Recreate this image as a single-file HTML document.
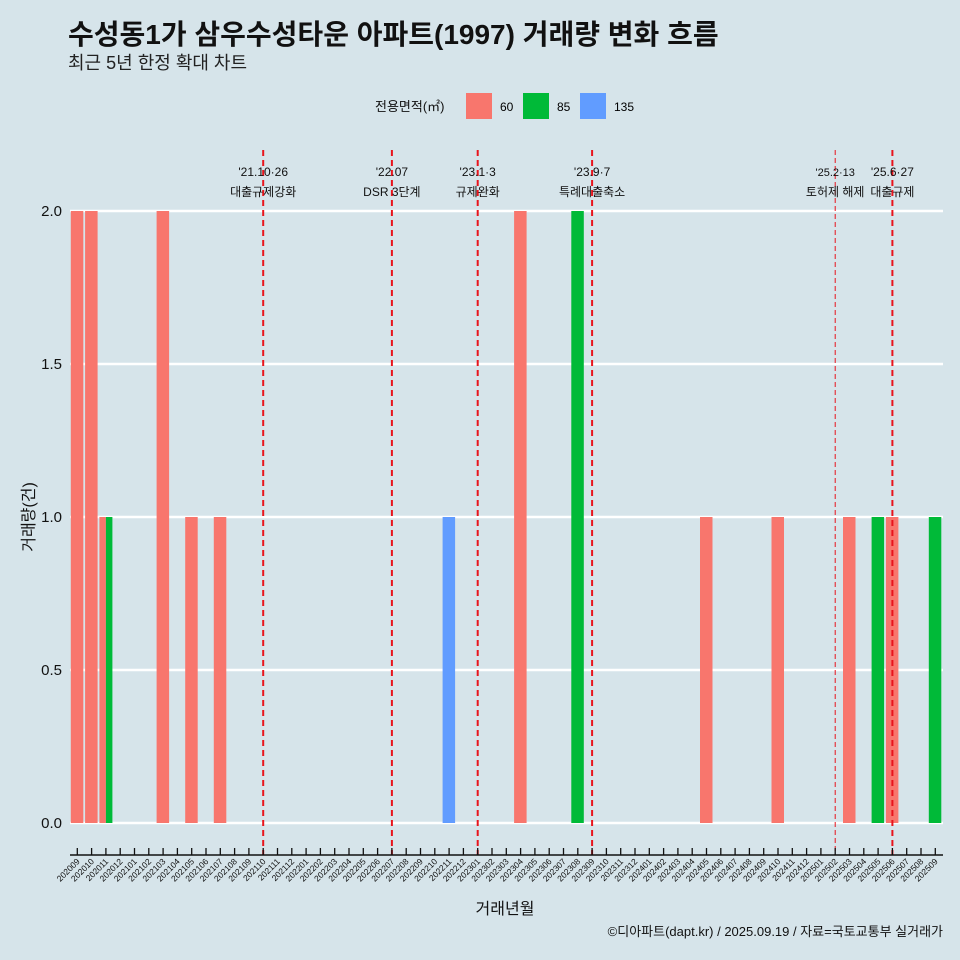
<!DOCTYPE html>
<html><head><meta charset="utf-8"><style>
html,body{margin:0;width:960px;height:960px;overflow:hidden;background:#d6e4ea;font-family:"Liberation Sans","Noto Sans CJK KR",sans-serif}
svg{display:block}
svg text{font-family:"Liberation Sans","Noto Sans CJK KR",sans-serif}
</style></head><body>
<svg width="960" height="960" viewBox="0 0 960 960">
<rect width="960" height="960" fill="#d6e4ea"/>
<text x="68" y="44" font-size="28" font-weight="bold" fill="#111">수성동1가 삼우수성타운 아파트(1997) 거래량 변화 흐름</text>
<text x="68" y="69" font-size="18" fill="#222">최근 5년 한정 확대 차트</text>
<g>
<text x="375" y="111" font-size="13" fill="#111">전용면적(㎡)</text>
<rect x="466" y="93" width="26" height="26" fill="#f8766d"/>
<text x="500" y="111" font-size="12">60</text>
<rect x="523" y="93" width="26" height="26" fill="#00ba38"/>
<text x="557" y="111" font-size="12">85</text>
<rect x="580" y="93" width="26" height="26" fill="#619cff"/>
<text x="614" y="111" font-size="12">135</text>
</g>
<g id="grid"></g><g id="bars"></g><g id="vlines"></g><g id="axes"></g>
<text x="505" y="914" font-size="16" text-anchor="middle" fill="#111">거래년월</text>
<text transform="translate(34,517) rotate(-90)" font-size="16" text-anchor="middle" fill="#111">거래량(건)</text>
<text x="943" y="936" font-size="13" text-anchor="end" fill="#111">©디아파트(dapt.kr) / 2025.09.19 / 자료=국토교통부 실거래가</text>
</svg>
<script>
const months=[];for(let y=2020,m=9;!(y===2025&&m===10);){months.push(''+y+(m<10?'0':'')+m);m++;if(m>12){m=1;y++;}}
const sizes=['60','85','135'];
const colors={'60':'#f8766d','85':'#00ba38','135':'#619cff'};
const barMonths=['202009','202010','202011','202011','202103','202105','202107','202211','202304','202308','202405','202410','202503','202505','202506','202509'];
const barSizes=['60','60','60','85','60','60','60','135','60','85','60','60','60','85','60','85'];
const barValues=[2,2,1,1,2,1,1,1,2,2,1,1,1,1,1,1];
const yTicks=[0,0.5,1,1.5,2];
const eventMonths=['202110','202207','202301','202309','202502','202506'];
const eventDates=["'21.10·26","'22.07","'23.1·3","'23.9·7","'25.2·13","'25.6·27"];
const eventLabels=['대출규제강화','DSR 3단계','규제완화','특례대출축소','토허제 해제','대출규제'];
const NS='http://www.w3.org/2000/svg';
const x0=77.3,dx=14.3,y0=823,yk=306;
const X=m=>x0+months.indexOf(m)*dx, Y=v=>y0-v*yk;
function el(t,a,p){const e=document.createElementNS(NS,t);for(const k in a)e.setAttribute(k,a[k]);document.getElementById(p).appendChild(e);return e;}
yTicks.forEach(v=>{
 const l=el('line',{x1:70,x2:943,y1:Y(v),y2:Y(v),stroke:'#fff','stroke-width':2.5},'grid');
 
 
 const t=el('text',{x:62,y:Y(v)+5,'font-size':15,'text-anchor':'end',fill:'#111'},'grid');t.textContent=v.toFixed(1);
 
 
});
const bw=13;
barMonths.forEach((m,i)=>{
 const same=barMonths.map((mm,j)=>mm===m?j:-1).filter(j=>j>=0);
 const n=same.length,k=same.indexOf(i),w=bw/n;
 const x=X(m)-bw/2+k*w;
 const r=el('rect',{x:x,y:Y(barValues[i]),width:w-(n>1?0:0.5),height:barValues[i]*yk,fill:colors[barSizes[i]]},'bars');
 
 
});
eventMonths.forEach((m,i)=>{
 const x=X(m),thin=m==='202502';
 const l=el('line',{x1:x,x2:x,y1:150,y2:855,stroke:'#e8141c','stroke-width':thin?1:2,'stroke-dasharray':thin?'5,3':'6,4'},'vlines');
 
 
 const t1=el('text',{x:x,y:176,'font-size':thin?11:12,'text-anchor':'middle',fill:'#111'},'vlines');t1.textContent=eventDates[i];
 
 
 const t2=el('text',{x:x,y:196,'font-size':12,'text-anchor':'middle',fill:'#111'},'vlines');t2.textContent=eventLabels[i];
 
 
});
const ax=el('line',{x1:70,x2:943,y1:855,y2:855,stroke:'#111','stroke-width':1.5},'axes');


months.forEach(m=>{
 const x=X(m);
 const t=el('line',{x1:x,x2:x,y1:848,y2:855,stroke:'#111','stroke-width':1.3},'axes');
 
 
 const lb=el('text',{transform:`translate(${x+3},${862}) rotate(-45)`,'font-size':8.5,'text-anchor':'end',fill:'#111'},'axes');lb.textContent=m;
 
 
});
</script>
</body></html>
